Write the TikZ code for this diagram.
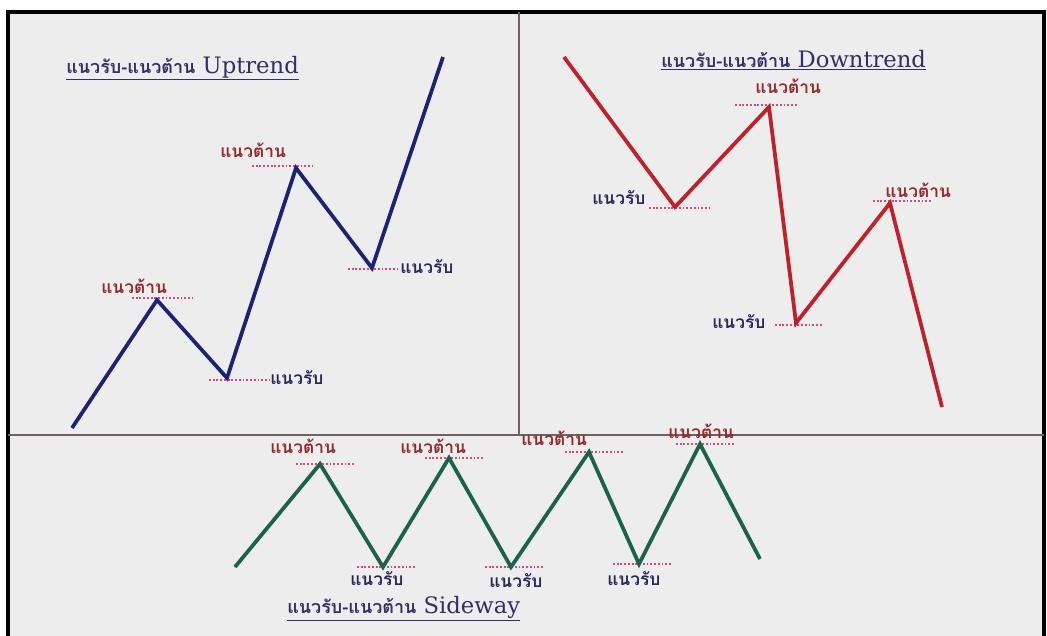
\documentclass[tikz,border=0pt]{standalone}
\usepackage{fontspec}
\setmainfont{DejaVu Serif}
\newfontfamily\thaifont[Script=Thai]{Loma}
\usetikzlibrary{positioning}

\definecolor{upblue}{RGB}{28,34,118}
\definecolor{downred}{RGB}{192,32,42}
\definecolor{sidegreen}{RGB}{28,98,72}
\definecolor{resred}{RGB}{150,40,40}
\definecolor{supnavy}{RGB}{40,40,92}
\definecolor{dotpink}{RGB}{214,72,128}
\definecolor{paper}{RGB}{237,237,237}
\definecolor{titlenavy}{RGB}{52,46,104}
\definecolor{divgray}{RGB}{112,98,98}

\newcommand\thaihead{\thaifont\bfseries\fontsize{13.5}{15}\selectfont}

\begin{document}
\begin{tikzpicture}[
    x=0.75pt, y=-0.75pt,
    trend/.style={line width=2.8pt, line join=miter, line cap=butt},
    lvl/.style={dotpink, line width=1.2pt, dash pattern=on 1.4pt off 1.4pt},
    divider/.style={divgray, line width=1.1pt},
    res/.style={font=\thaifont\bfseries\fontsize{13}{15}\selectfont, text=resred, inner sep=0pt, anchor=base west},
    sup/.style={font=\thaifont\bfseries\fontsize{13}{15}\selectfont, text=supnavy, inner sep=0pt, anchor=base west},
    ttl/.style={font=\fontsize{17}{19}\selectfont, text=titlenavy, inner sep=0pt, anchor=base west}
  ]
  \useasboundingbox (0,0) rectangle (1047,636);

  % Cornice
  \fill[white] (0,0) rectangle (1047,636);
  \draw[line width=3pt, fill=paper] (8,12) rectangle (1044,660);
  \draw[divider] (519,12) -- (519,435);
  \draw[divider] (8,435) -- (1044,435);

  % Uptrend
  \coordinate (u0) at (72,428);
  \coordinate (u1) at (157,300);
  \coordinate (u2) at (227,378);
  \coordinate (u3) at (296,168);
  \coordinate (u4) at (372,268);
  \coordinate (u5) at (443,57);
  \draw[lvl] ([shift={(-25,-2)}]u1) -- ([shift={(36,-2)}]u1);
  \draw[lvl] ([shift={(-18,2)}]u2) -- ([shift={(43,2)}]u2);
  \draw[lvl] ([shift={(-44,-2)}]u3) -- ([shift={(17,-2)}]u3);
  \draw[lvl] ([shift={(-24,1)}]u4) -- ([shift={(28,1)}]u4);
  \draw[trend, upblue] (u0) -- (u1) -- (u2) -- (u3) -- (u4) -- (u5);
  \node[ttl] (tup) at (66,73) {\underline{{\thaihead แนวรับ-แนวต้าน} Uptrend}};
  \node[res] (rup1) at (101,293) {แนวต้าน};
  \node[res] (rup2) at (220,157) {แนวต้าน};
  \node[sup] (sup1) at (270,384) {แนวรับ};
  \node[sup] (sup2) at (400,273) {แนวรับ};

  % Downtrend
  \coordinate (d0) at (564,57);
  \coordinate (d1) at (675,207);
  \coordinate (d2) at (769,107);
  \coordinate (d3) at (796,323);
  \coordinate (d4) at (890,203);
  \coordinate (d5) at (942,407);
  \draw[lvl] ([shift={(-26,1)}]d1) -- ([shift={(35,1)}]d1);
  \draw[lvl] ([shift={(-34,-2)}]d2) -- ([shift={(28,-2)}]d2);
  \draw[lvl] ([shift={(-21,2)}]d3) -- ([shift={(26,2)}]d3);
  \draw[lvl] ([shift={(-17,-2)}]d4) -- ([shift={(42,-2)}]d4);
  \draw[trend, downred] (d0) -- (d1) -- (d2) -- (d3) -- (d4) -- (d5);
  \node[ttl] (tdown) at (661,67) {\underline{{\thaihead แนวรับ-แนวต้าน} Downtrend}};
  \node[sup] (sdown1) at (592,204) {แนวรับ};
  \node[res] (rdown1) at (755,93) {แนวต้าน};
  \node[sup] (sdown2) at (712,328) {แนวรับ};
  \node[res] (rdown2) at (885,197) {แนวต้าน};

  % Sideway
  \coordinate (s0) at (235,567);
  \coordinate (s1) at (320,464);
  \coordinate (s2) at (383,567);
  \coordinate (s3) at (449,458);
  \coordinate (s4) at (511,567);
  \coordinate (s5) at (589,452);
  \coordinate (s6) at (639,564);
  \coordinate (s7) at (700,444);
  \coordinate (s8) at (760,559);
  \foreach \p in {s1,s3,s5,s7} {
    \draw[lvl] ([shift={(-24,0)}]\p) -- ([shift={(34,0)}]\p);
  }
  \foreach \p in {s2,s4,s6} {
    \draw[lvl] ([shift={(-26,0)}]\p) -- ([shift={(33,0)}]\p);
  }
  \draw[trend, sidegreen] (s0) -- (s1) -- (s2) -- (s3) -- (s4) -- (s5) -- (s6) -- (s7) -- (s8);
  \node[ttl] (tside) at (287,613) {\underline{{\thaihead แนวรับ-แนวต้าน} Sideway}};
  \node[res] (rside1) at (270,453) {แนวต้าน};
  \node[res] (rside2) at (400,453) {แนวต้าน};
  \node[res] (rside3) at (521,445) {แนวต้าน};
  \node[res] (rside4) at (668,438) {แนวต้าน};
  \node[sup] (sside1) at (350,585) {แนวรับ};
  \node[sup] (sside2) at (489,587) {แนวรับ};
  \node[sup] (sside3) at (607,585) {แนวรับ};

\end{tikzpicture}
\end{document}
